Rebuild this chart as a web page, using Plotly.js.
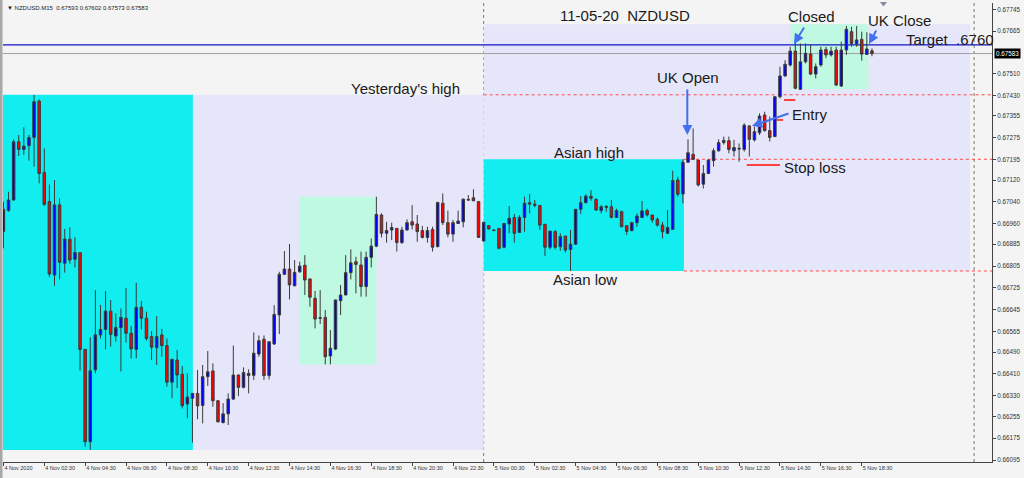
<!DOCTYPE html>
<html><head><meta charset="utf-8">
<script src="https://cdn.plot.ly/plotly-3.0.1.min.js"></script>
<style>html,body{margin:0;padding:0;background:#f4f4f4;}#chart{width:1024px;height:478px;}</style>
</head><body><div id="chart"></div>
<script>
// ---- data (M15 candles, 4 Nov 2020 00:30 onward) ----
const opens = [
0.66931,0.67008,0.67047,0.67260,0.67232,0.67246,0.67276,0.67409,0.67148,0.67041,
0.66772,0.67029,0.66815,0.66903,0.66830,0.66854,0.66500,0.66162,0.66425,0.66553,
0.66573,0.66640,0.66549,0.66580,0.66614,0.66559,0.66500,0.66654,0.66614,0.66547,
0.66506,0.66553,0.66514,0.66380,0.66461,0.66409,0.66300,0.66321,0.66339,0.66295,
0.66400,0.66421,0.66312,0.66232,0.66264,0.66318,0.66406,0.66361,0.66412,0.66405,
0.66483,0.66537,0.66404,0.66520,0.66626,0.66775,0.66794,0.66733,0.66784,0.66808,
0.66758,0.66687,0.66616,0.66617,0.66476,0.66501,0.66678,0.66699,0.66781,0.66821,
0.66809,0.66730,0.66837,0.66878,0.66992,0.66925,0.66937,0.66943,0.66891,0.66937,
0.66967,0.66959,0.66935,0.66910,0.66939,0.66876,0.67035,0.66964,0.66922,0.66961,
0.66967,0.67049,0.67055,0.67041,0.66897,0.66953,0.66937,0.66943,0.66874,0.66959,
0.66983,0.66928,0.66983,0.67037,0.67032,0.67027,0.66958,0.66874,0.66931,0.66876,
0.66915,0.66866,0.66885,0.67013,0.67037,0.67061,0.67049,0.67008,0.67024,0.67022,
0.66983,0.67004,0.66953,0.66935,0.66964,0.66983,0.67008,0.66992,0.66976,0.66955,
0.66925,0.66939,0.67120,0.67069,0.67185,0.67214,0.67193,0.67105,0.67144,0.67191,
0.67227,0.67257,0.67264,0.67227,0.67236,0.67232,0.67318,0.67267,0.67293,0.67358,
0.67301,0.67279,0.67425,0.67501,0.67541,0.67592,0.67452,0.67553,0.67581,0.67508,
0.67541,0.67598,0.67578,0.67596,0.67464,0.67596,0.67663,0.67618,0.67635,0.67580,
0.67593];
const highs = [
0.67041,0.67077,0.67269,0.67285,0.67313,0.67285,0.67432,0.67415,0.67236,0.67104,
0.67120,0.67053,0.66941,0.66947,0.66910,0.66856,0.66502,0.66544,0.66717,0.66663,
0.66714,0.66681,0.66632,0.66650,0.66724,0.66586,0.66744,0.66677,0.66638,0.66567,
0.66622,0.66575,0.66540,0.66464,0.66498,0.66439,0.66412,0.66339,0.66425,0.66443,
0.66494,0.66449,0.66314,0.66303,0.66339,0.66514,0.66408,0.66434,0.66427,0.66562,
0.66551,0.66551,0.66528,0.66662,0.66784,0.66860,0.66886,0.66827,0.66821,0.66845,
0.66758,0.66714,0.66717,0.66644,0.66571,0.66681,0.66736,0.66845,0.66866,0.66839,
0.66858,0.66858,0.66906,0.67059,0.66998,0.66967,0.66964,0.66943,0.66949,0.66976,
0.67028,0.66992,0.66952,0.66949,0.66949,0.67040,0.67071,0.67008,0.66974,0.67008,
0.67052,0.67065,0.67086,0.67043,0.66967,0.66955,0.66939,0.66943,0.66961,0.67025,
0.66996,0.66992,0.67059,0.67069,0.67047,0.67027,0.66958,0.66933,0.66937,0.66925,
0.66915,0.66937,0.67013,0.67061,0.67068,0.67083,0.67053,0.67028,0.67027,0.67047,
0.67015,0.67008,0.66955,0.66967,0.66998,0.67043,0.67015,0.66992,0.66983,0.66967,
0.67010,0.67154,0.67132,0.67196,0.67269,0.67309,0.67193,0.67175,0.67196,0.67236,
0.67269,0.67279,0.67279,0.67267,0.67254,0.67328,0.67321,0.67315,0.67364,0.67370,
0.67352,0.67425,0.67535,0.67559,0.67608,0.67627,0.67620,0.67620,0.67614,0.67547,
0.67608,0.67608,0.67608,0.67608,0.67627,0.67684,0.67681,0.67684,0.67663,0.67661,
0.67602];
const lows = [
0.66870,0.67004,0.67044,0.67208,0.67212,0.67191,0.67169,0.67108,0.67025,0.66764,
0.66733,0.66756,0.66781,0.66813,0.66800,0.66422,0.66144,0.66132,0.66412,0.66540,
0.66500,0.66510,0.66528,0.66419,0.66525,0.66467,0.66467,0.66573,0.66532,0.66461,
0.66443,0.66473,0.66364,0.66321,0.66358,0.66284,0.66248,0.66159,0.66244,0.66229,
0.66366,0.66290,0.66232,0.66229,0.66223,0.66315,0.66329,0.66357,0.66339,0.66388,
0.66473,0.66388,0.66390,0.66516,0.66556,0.66772,0.66683,0.66730,0.66781,0.66699,
0.66656,0.66577,0.66593,0.66445,0.66445,0.66498,0.66626,0.66699,0.66756,0.66705,
0.66693,0.66693,0.66800,0.66874,0.66910,0.66891,0.66900,0.66858,0.66886,0.66935,
0.66939,0.66894,0.66906,0.66891,0.66858,0.66874,0.66955,0.66910,0.66894,0.66959,
0.66947,0.67044,0.67043,0.66908,0.66894,0.66939,0.66933,0.66866,0.66870,0.66925,
0.66891,0.66927,0.66931,0.66998,0.67020,0.66937,0.66842,0.66866,0.66866,0.66861,
0.66854,0.66787,0.66882,0.66996,0.67035,0.67044,0.67008,0.66998,0.67004,0.66980,
0.66981,0.66947,0.66919,0.66932,0.66949,0.66980,0.66986,0.66964,0.66949,0.66906,
0.66922,0.66939,0.67059,0.67035,0.67185,0.67193,0.67096,0.67089,0.67142,0.67169,
0.67224,0.67250,0.67218,0.67206,0.67187,0.67224,0.67206,0.67261,0.67285,0.67297,
0.67261,0.67279,0.67419,0.67498,0.67535,0.67452,0.67450,0.67547,0.67504,0.67492,
0.67535,0.67566,0.67572,0.67464,0.67462,0.67578,0.67608,0.67608,0.67557,0.67578,
0.67573];
const closes = [
0.67013,0.67047,0.67260,0.67232,0.67244,0.67275,0.67407,0.67144,0.67031,0.66776,
0.67029,0.66819,0.66904,0.66827,0.66855,0.66500,0.66162,0.66422,0.66553,0.66573,
0.66640,0.66555,0.66580,0.66617,0.66559,0.66502,0.66654,0.66614,0.66540,0.66508,
0.66547,0.66514,0.66380,0.66464,0.66406,0.66294,0.66325,0.66339,0.66293,0.66400,
0.66418,0.66312,0.66235,0.66264,0.66318,0.66406,0.66361,0.66415,0.66404,0.66486,
0.66532,0.66404,0.66528,0.66628,0.66775,0.66794,0.66736,0.66782,0.66805,0.66754,
0.66691,0.66611,0.66614,0.66473,0.66504,0.66681,0.66699,0.66781,0.66817,0.66811,
0.66730,0.66837,0.66878,0.66994,0.66925,0.66935,0.66946,0.66891,0.66937,0.66964,
0.66955,0.66931,0.66910,0.66935,0.66874,0.67038,0.66964,0.66922,0.66964,0.66970,
0.67050,0.67047,0.67044,0.66910,0.66965,0.66941,0.66935,0.66870,0.66961,0.66980,
0.66925,0.66983,0.67035,0.67032,0.67027,0.66955,0.66874,0.66933,0.66874,0.66913,
0.66864,0.66885,0.67013,0.67037,0.67061,0.67053,0.67010,0.67022,0.67020,0.66983,
0.67008,0.66949,0.66932,0.66964,0.66988,0.67007,0.66992,0.66974,0.66955,0.66931,
0.66946,0.67118,0.67068,0.67185,0.67220,0.67196,0.67102,0.67144,0.67193,0.67227,
0.67257,0.67265,0.67232,0.67239,0.67234,0.67321,0.67269,0.67297,0.67354,0.67301,
0.67276,0.67425,0.67501,0.67544,0.67592,0.67456,0.67553,0.67584,0.67508,0.67535,
0.67596,0.67578,0.67592,0.67468,0.67596,0.67672,0.67620,0.67633,0.67581,0.67600,
0.67583];

const xTickLabels = ['4 Nov 2020','4 Nov 02:30','4 Nov 04:30','4 Nov 06:30','4 Nov 08:30','4 Nov 10:30',
  '4 Nov 12:30','4 Nov 14:30','4 Nov 16:30','4 Nov 18:30','4 Nov 20:30','4 Nov 22:30','5 Nov 00:30',
  '5 Nov 02:30','5 Nov 04:30','5 Nov 06:30','5 Nov 08:30','5 Nov 10:30','5 Nov 12:30','5 Nov 14:30',
  '5 Nov 16:30','5 Nov 18:30'];
const yTickVals = [0.67745,0.67665,0.67510,0.67430,0.67355,0.67275,0.67195,0.67120,0.67040,0.66960,
  0.66885,0.66805,0.66725,0.66645,0.66565,0.66490,0.66410,0.66330,0.66255,0.66175,0.66095];

const yesterdayHigh = 0.67432, asianHigh = 0.67196, asianLow = 0.66787;
const targetPrice = 0.67615, lastPrice = 0.67583;

// ---- helpers ----
const T0 = Date.UTC(2020,10,4,0,30);
function T(i){ return new Date(T0 + i*900000).toISOString().replace('T',' ').slice(0,19); }
const times = opens.map((_,i)=>T(i));
const PL=3, PR=992, PT=3, PB=462;
function px(x){ return (x-PL)/(PR-PL); }
function py(y){ return (PB-y)/(PB-PT); }

const FONT = 'Liberation Sans, Arial, sans-serif';
const CYAN='#12eef0', LAV='#e6e6fa', MINT='#bff9e1';

const trace = {
  type:'candlestick', x:times, open:opens, high:highs, low:lows, close:closes,
  increasing:{line:{color:'#3a3a3a',width:1}, fillcolor:'#0000ff'},
  decreasing:{line:{color:'#3a3a3a',width:1}, fillcolor:'#ff0000'},
  whiskerwidth:0, hoverinfo:'skip', showlegend:false
};

function rect(i0,i1,p0,p1,c){ return {type:'rect',xref:'x',yref:'y',x0:T(i0),x1:T(i1),y0:p0,y1:p1,fillcolor:c,line:{width:0},layer:'below'}; }
function hline(i0,i1,p,c,dash,w){ return {type:'line',xref:'x',yref:'y',x0:T(i0),x1:T(i1),y0:p,y1:p,line:{color:c,width:w||1,dash:dash||'solid'},layer:'below'}; }

const xEnd = 193.5;
const shapes = [
  rect(-1, 37.1, yesterdayHigh, 0.66132, CYAN),
  rect(37.1, 94, yesterdayHigh, 0.66132, LAV),
  rect(58, 73, 0.67059, 0.66445, MINT),
  rect(94, 189.2, 0.67690, asianLow, LAV),
  rect(94, 133.2, asianHigh, asianLow, CYAN),
  rect(154.1, 169.3, 0.67690, 0.67452, MINT),
  hline(94, xEnd, yesterdayHigh, '#ff4a4a', 'dot'),
  hline(133.2, xEnd, asianHigh, '#ff4a4a', 'dot'),
  hline(133.2, xEnd, asianLow, '#ff4a4a', 'dot'),
  {type:'line',xref:'x',yref:'paper',x0:T(94),x1:T(94),y0:0,y1:1,line:{color:'#7a7a7a',width:1,dash:'dot'},layer:'below'},
  {type:'line',xref:'x',yref:'paper',x0:T(190),x1:T(190),y0:0,y1:1,line:{color:'#7a7a7a',width:1,dash:'dot'},layer:'below'},
  hline(-1, xEnd, targetPrice, '#1414c8', 'solid', 1.3),
  hline(-1, xEnd, lastPrice, '#a0a0a0', 'solid', 1),
  hline(152.8, 155, 0.67413, '#ff4040', 'solid', 2),
  hline(151.3, 152.6, 0.67340, '#ff4040', 'solid', 2),
  hline(145.5, 152, 0.67175, '#ff4040', 'solid', 2),
  {type:'rect',xref:'paper',yref:'paper',x0:px(0),x1:px(2.5),y0:py(478),y1:py(0),fillcolor:'#a8a8a8',line:{width:0}},
  {type:'path',xref:'paper',yref:'paper',
   path:`M ${px(880)} ${py(2)} L ${px(887)} ${py(2)} L ${px(883.5)} ${py(6.5)} Z`,
   fillcolor:'#8a8aa0',line:{width:0}}
];

function txt(x,y,s,size,anchor){ return {xref:'paper',yref:'paper',x:px(x),y:py(y),text:s,showarrow:false,
  xanchor:anchor||'center',yanchor:'middle',font:{family:FONT,size:size||15,color:'#1a1a1a'}}; }
function arrow(hx,hy,tx,ty){ return {xref:'paper',yref:'paper',x:px(hx),y:py(hy),ax:tx-hx,ay:ty-hy,text:'',
  showarrow:true,arrowhead:2,arrowsize:1,arrowwidth:2,arrowcolor:'#4470f0',standoff:0}; }

const annotations = [
  txt(5,8,'▼ NZDUSD.M15  0.67593 0.67602 0.67573 0.67583',6,'left'),
  txt(625,15,'11-05-20&nbsp;&nbsp;NZDUSD'),
  txt(405,88,"Yesterday's high"),
  txt(589,152,'Asian high'),
  txt(585,279,'Asian low'),
  txt(688,78,'UK Open'),
  txt(811,16,'Closed'),
  txt(899,21,'UK Close'),
  txt(904,39,'Target&nbsp;&nbsp;.6760',15,'left'),
  txt(810,115,'Entry'),
  txt(815,167,'Stop loss'),
  arrow(687.3,135,687.3,88),
  arrow(794,44,805,26),
  arrow(869,44,877,29),
  arrow(752,126,790,113),
  {xref:'paper',yref:'y',x:1,xanchor:'left',xshift:2,y:lastPrice,text:'0.67583',showarrow:false,
    bgcolor:'#000000',font:{family:FONT,size:6.3,color:'#ffffff'},borderpad:1}
];

const layout = {
  width:1024, height:478,
  margin:{l:PL, r:1024-PR, t:PT, b:478-PB},
  paper_bgcolor:'#f4f4f4', plot_bgcolor:'#f4f4f4',
  showlegend:false, boxgap:0.3,
  xaxis:{type:'date', range:[T(-0.08), T(xEnd)], rangeslider:{visible:false},
    showgrid:false, zeroline:false, showline:true, linecolor:'#444', linewidth:1,
    ticks:'outside', ticklen:3, tickcolor:'#444',
    tickvals:xTickLabels.map((_,k)=>T(k*8)), ticktext:xTickLabels,
    ticklabelposition:'outside right', tickfont:{family:FONT,size:5.5,color:'#333'}},
  yaxis:{side:'right', range:[0.660877,0.677681], showgrid:false, zeroline:false,
    showline:true, linecolor:'#444', linewidth:1, ticks:'outside', ticklen:3, tickcolor:'#444',
    tickvals:yTickVals, ticktext:yTickVals.map(v=>v.toFixed(5)),
    tickfont:{family:FONT,size:6.3,color:'#333'}},
  shapes:shapes, annotations:annotations
};

Plotly.newPlot('chart',[trace],layout,{displayModeBar:false,staticPlot:true});
</script></body></html>
